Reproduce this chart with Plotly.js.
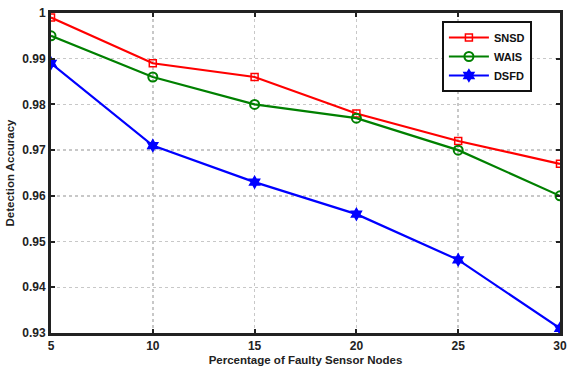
<!DOCTYPE html>
<html><head><meta charset="utf-8">
<script src="https://cdn.plot.ly/plotly-3.0.1.min.js"></script>
<style>html,body{margin:0;padding:0;background:#fff}#chart{width:568px;height:369px}</style>
</head><body><div id="chart"></div>
<script>
const faultyPct = [5, 10, 15, 20, 25, 30];
const snsd = [0.999, 0.989, 0.986, 0.978, 0.972, 0.967];
const wais = [0.995, 0.986, 0.980, 0.977, 0.970, 0.960];
const dsfd = [0.989, 0.971, 0.963, 0.956, 0.946, 0.931];
const yTicks = [0.93, 0.94, 0.95, 0.96, 0.97, 0.98, 0.99, 1];
const yTickText = ['0.93', '0.94', '0.95', '0.96', '0.97', '0.98', '0.99', '1'];

const font = {family: 'Liberation Sans, Arial, sans-serif', color: '#222'};
const traces = [
  {x: faultyPct, y: snsd, name: 'SNSD', mode: 'lines+markers',
   line: {color: '#ff0000', width: 2.2},
   marker: {symbol: 'square-open', size: 7, color: '#ff0000', line: {width: 1.5}}},
  {x: faultyPct, y: wais, name: 'WAIS', mode: 'lines+markers',
   line: {color: '#008000', width: 2.2},
   marker: {symbol: 'circle-open', size: 9, color: '#008000', line: {width: 2}}},
  {x: faultyPct, y: dsfd, name: 'DSFD', mode: 'lines+markers',
   line: {color: '#0000ff', width: 2.2},
   marker: {symbol: 'hexagram', size: 11, color: '#0000ff', line: {width: 0}}}
];
const layout = {
  width: 568, height: 369,
  margin: {l: 51, r: 8, t: 13, b: 36},
  paper_bgcolor: '#fff', plot_bgcolor: '#fff',
  showlegend: true,
  legend: {x: 0.768, y: 0.975, xanchor: 'left', yanchor: 'top',
    bgcolor: '#fff', bordercolor: '#111', borderwidth: 2,
    font: {family: font.family, size: 11, color: '#111', weight: 'bold'},
    itemwidth: 40, tracegroupgap: 4},
  xaxis: {range: [5, 30], tickvals: faultyPct, ticks: 'inside', ticklen: 4, tickwidth: 2,
    tickcolor: '#222', showline: true, linecolor: '#222', linewidth: 3, mirror: 'ticks',
    showgrid: true, gridcolor: '#c8c8c8', griddash: 'dot', gridwidth: 1.5, zeroline: false,
    tickfont: {family: font.family, size: 12, color: '#222', weight: 'bold'},
    title: {text: 'Percentage of Faulty Sensor Nodes', standoff: 4,
      font: {family: font.family, size: 11.5, color: '#222', weight: 'bold'}}},
  yaxis: {range: [0.93, 1], tickvals: yTicks, ticktext: yTickText, ticks: 'inside', ticklen: 4, tickwidth: 2,
    tickcolor: '#222', showline: true, linecolor: '#222', linewidth: 3, mirror: 'ticks',
    showgrid: true, gridcolor: '#c8c8c8', griddash: 'dot', gridwidth: 1.5, zeroline: false,
    tickfont: {family: font.family, size: 12, color: '#222', weight: 'bold'},
    title: {text: 'Detection Accuracy', standoff: 6,
      font: {family: font.family, size: 11.5, color: '#222', weight: 'bold'}}}
};
Plotly.newPlot('chart', traces, layout, {displayModeBar: false, staticPlot: true});
</script></body></html>
